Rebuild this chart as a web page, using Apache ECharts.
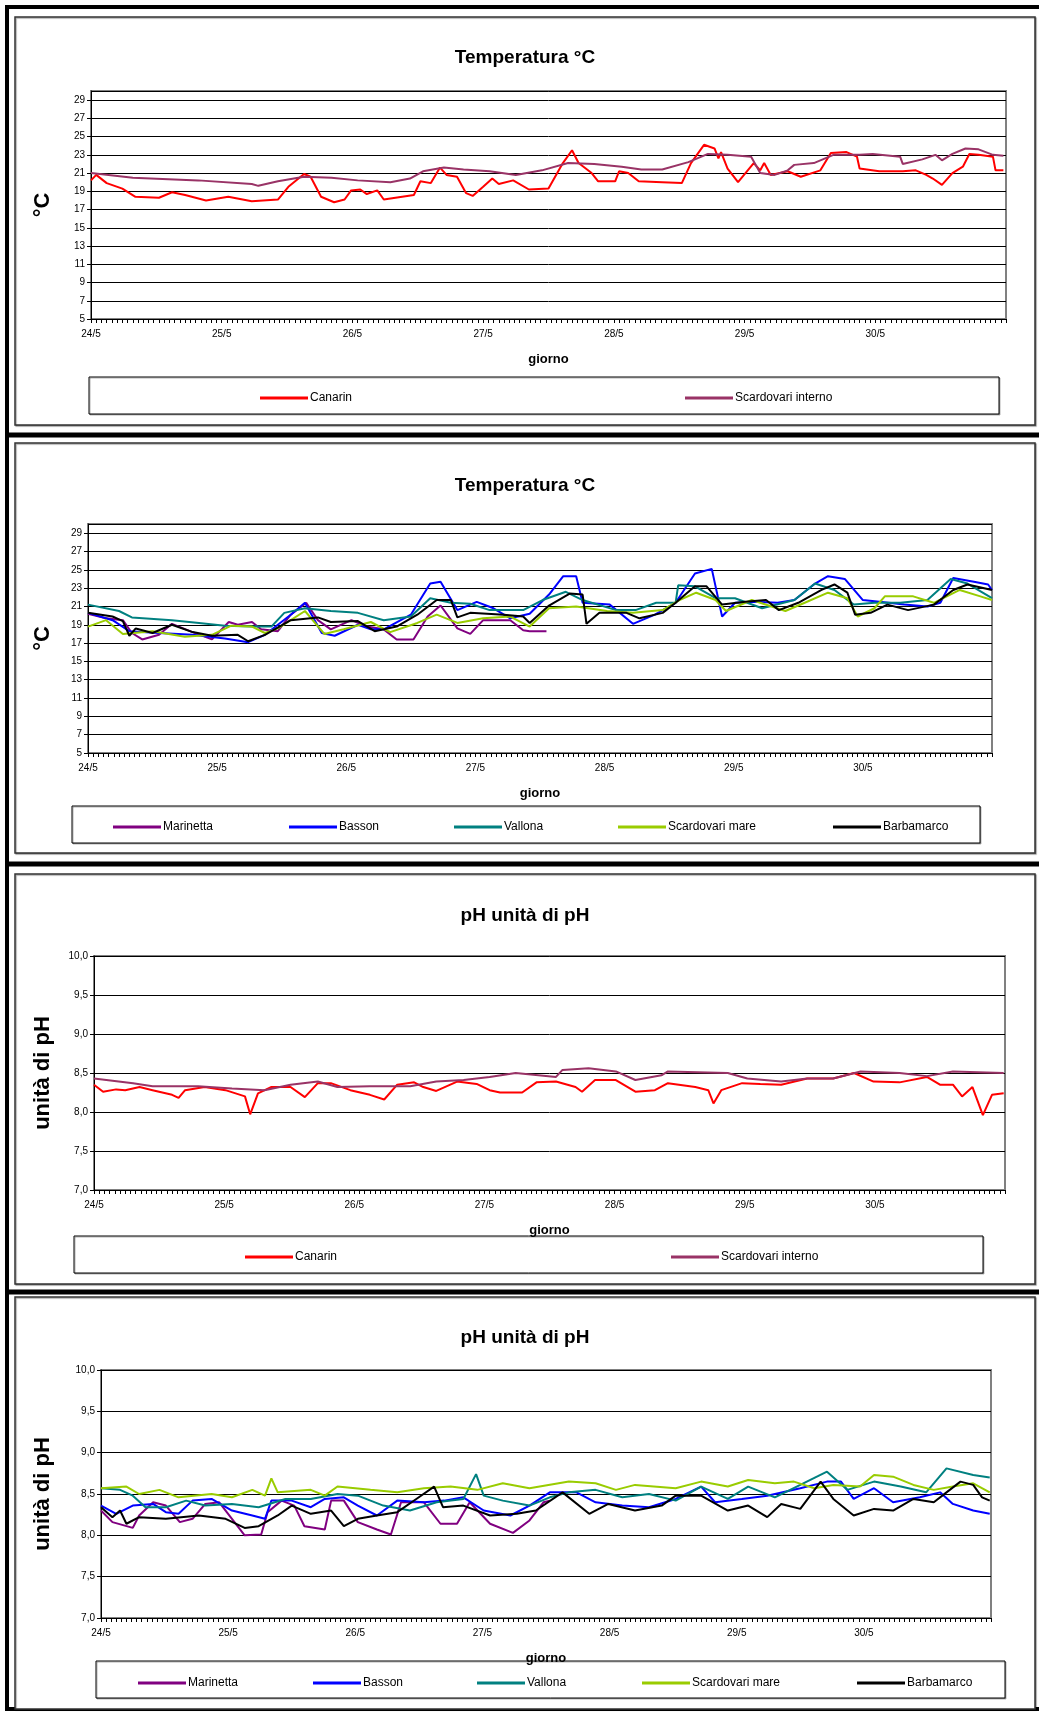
<!DOCTYPE html>
<html>
<head>
<meta charset="utf-8">
<script src="https://cdn.jsdelivr.net/npm/echarts@6/dist/echarts.min.js"></script>
<style>html,body{margin:0;padding:0;background:#fff}#main{width:1039px;height:1712px}</style>
</head>
<body>
<div id="main"></div>
<script>
// x = giorni dal 24/5, y = valore
var dayLabels = ['24/5', '25/5', '26/5', '27/5', '28/5', '29/5', '30/5'];

// --- Temperatura, pannello 1 ---
var tCanarin = [[0,20.2],[0.04,20.8],[0.12,19.9],[0.24,19.3],[0.34,18.4],[0.52,18.3],[0.62,18.9],[0.72,18.6],[0.88,18.0],[1.05,18.4],[1.23,17.9],[1.43,18.1],[1.51,19.5],[1.63,20.9],[1.68,20.6],[1.76,18.4],[1.86,17.8],[1.94,18.1],[1.99,19.1],[2.06,19.2],[2.11,18.7],[2.19,19.1],[2.24,18.1],[2.47,18.6],[2.52,20.1],[2.6,19.9],[2.67,21.6],[2.72,20.8],[2.8,20.6],[2.87,18.8],[2.92,18.5],[3.0,19.5],[3.07,20.4],[3.12,19.8],[3.23,20.2],[3.35,19.2],[3.5,19.3],[3.61,22.1],[3.68,23.5],[3.73,22.1],[3.83,21.0],[3.88,20.1],[4.01,20.1],[4.04,21.2],[4.11,21.0],[4.19,20.1],[4.37,20.0],[4.52,19.9],[4.59,22.1],[4.69,24.1],[4.77,23.7],[4.8,22.6],[4.82,23.3],[4.87,21.5],[4.95,20.0],[5.07,22.1],[5.12,21.3],[5.15,22.1],[5.2,20.8],[5.33,21.2],[5.43,20.6],[5.58,21.3],[5.66,23.2],[5.78,23.3],[5.86,22.8],[5.88,21.5],[6.03,21.2],[6.21,21.2],[6.31,21.3],[6.39,20.8],[6.44,20.4],[6.51,19.7],[6.59,21.0],[6.67,21.7],[6.72,23.1],[6.79,23.0],[6.9,22.8],[6.92,21.3],[6.98,21.3]];
var tScardInt = [[0,21.0],[0.32,20.5],[0.82,20.2],[1.23,19.8],[1.28,19.6],[1.43,20.1],[1.63,20.6],[1.84,20.5],[2.04,20.2],[2.29,20.0],[2.44,20.4],[2.54,21.2],[2.7,21.6],[2.85,21.4],[3.05,21.2],[3.25,20.8],[3.45,21.3],[3.65,22.1],[3.85,22.0],[4.06,21.7],[4.21,21.4],[4.37,21.4],[4.57,22.2],[4.72,23.1],[4.87,23.0],[5.05,22.8],[5.12,21.0],[5.23,20.8],[5.33,21.3],[5.38,21.9],[5.53,22.1],[5.68,23.0],[5.88,23.0],[5.98,23.1],[6.19,22.8],[6.21,22.0],[6.36,22.5],[6.46,23.0],[6.51,22.4],[6.59,23.1],[6.69,23.7],[6.79,23.6],[6.9,23.0],[6.98,22.9]];

// --- Temperatura, pannello 2 ---
var tMarinetta = [[0,20.2],[0.14,19.7],[0.27,19.5],[0.34,18.1],[0.42,17.4],[0.55,17.9],[0.65,19.1],[0.81,18.2],[0.96,17.4],[1.09,19.3],[1.16,19.0],[1.27,19.3],[1.34,18.5],[1.47,18.3],[1.57,20.1],[1.69,21.4],[1.78,19.5],[1.88,18.5],[2.04,19.5],[2.16,18.8],[2.29,18.5],[2.39,17.4],[2.52,17.4],[2.63,19.9],[2.73,21.1],[2.86,18.6],[2.96,18.0],[3.06,19.5],[3.27,19.5],[3.37,18.4],[3.42,18.3],[3.55,18.3]];
var tBasson = [[0,20.3],[0.19,19.5],[0.32,18.3],[0.55,18.1],[0.81,17.9],[1.06,17.5],[1.24,17.1],[1.37,17.9],[1.57,20.1],[1.68,21.4],[1.81,18.1],[1.91,17.8],[2.09,19.0],[2.19,18.5],[2.29,18.5],[2.5,20.1],[2.65,23.5],[2.73,23.7],[2.86,20.6],[3.01,21.5],[3.14,20.8],[3.27,19.7],[3.42,20.2],[3.57,22.3],[3.68,24.3],[3.78,24.3],[3.83,21.4],[4.04,21.2],[4.22,19.1],[4.39,20.1],[4.55,21.4],[4.7,24.6],[4.83,25.1],[4.91,19.9],[5.01,21.4],[5.16,21.5],[5.34,21.4],[5.47,21.7],[5.63,23.5],[5.73,24.3],[5.86,24.0],[6.0,21.7],[6.2,21.4],[6.32,21.2],[6.5,21.0],[6.6,21.4],[6.7,24.1],[6.86,23.7],[6.97,23.4],[7.0,22.8]];
var tVallona = [[0,21.2],[0.24,20.5],[0.34,19.8],[0.65,19.5],[0.86,19.2],[1.06,18.9],[1.27,18.8],[1.42,18.8],[1.52,20.3],[1.68,20.8],[1.88,20.5],[2.09,20.3],[2.29,19.5],[2.5,19.9],[2.65,21.9],[2.81,21.4],[2.96,21.3],[3.11,20.6],[3.37,20.6],[3.52,21.7],[3.7,22.6],[3.83,21.7],[4.09,20.6],[4.24,20.6],[4.4,21.4],[4.55,21.4],[4.57,23.3],[4.7,23.2],[4.86,21.9],[5.01,21.9],[5.22,20.8],[5.47,21.7],[5.63,23.5],[5.78,22.8],[5.93,21.2],[6.09,21.4],[6.29,21.4],[6.5,21.7],[6.68,24.0],[6.81,23.5],[7.0,21.9]];
var tScardMare = [[0,18.8],[0.14,19.5],[0.27,18.0],[0.5,18.3],[0.75,17.7],[0.96,17.9],[1.11,18.9],[1.27,18.8],[1.37,18.1],[1.47,18.6],[1.68,20.5],[1.83,18.0],[1.98,18.5],[2.19,19.3],[2.34,18.2],[2.55,19.2],[2.7,20.1],[2.86,19.2],[3.06,19.7],[3.27,19.9],[3.42,18.8],[3.57,20.8],[3.78,21.0],[4.02,20.5],[4.22,20.3],[4.45,20.6],[4.58,21.7],[4.71,22.5],[4.86,21.7],[4.94,20.5],[5.14,21.7],[5.4,20.5],[5.55,21.4],[5.73,22.5],[5.88,21.9],[5.96,19.9],[6.09,20.8],[6.17,22.1],[6.39,22.1],[6.55,21.4],[6.75,22.8],[6.91,22.1],[7.0,21.7]];
var tBarbamarco = [[0,20.3],[0.19,19.9],[0.27,19.4],[0.32,17.8],[0.37,18.6],[0.5,18.1],[0.65,19.0],[0.81,18.2],[0.96,17.8],[1.16,17.9],[1.24,17.2],[1.37,17.9],[1.57,19.5],[1.78,19.8],[1.88,19.3],[2.09,19.4],[2.22,18.3],[2.39,18.8],[2.55,20.1],[2.7,21.7],[2.81,21.7],[2.86,19.8],[2.96,20.3],[3.22,20.1],[3.37,19.9],[3.42,19.2],[3.57,21.1],[3.73,22.4],[3.83,22.3],[3.86,19.1],[3.96,20.3],[4.17,20.3],[4.27,19.7],[4.45,20.3],[4.55,21.4],[4.7,23.2],[4.79,23.2],[4.91,21.2],[5.09,21.5],[5.25,21.7],[5.35,20.6],[5.5,21.4],[5.68,22.8],[5.78,23.4],[5.88,22.5],[5.94,20.1],[6.06,20.3],[6.19,21.2],[6.35,20.6],[6.55,21.2],[6.7,22.8],[6.81,23.4],[7.0,22.8]];

// --- pH, pannello 3 ---
var phCanarin = [[0,8.35],[0.07,8.26],[0.17,8.29],[0.24,8.28],[0.35,8.32],[0.45,8.28],[0.6,8.22],[0.65,8.18],[0.7,8.28],[0.85,8.32],[1.01,8.28],[1.16,8.2],[1.2,7.97],[1.26,8.24],[1.36,8.32],[1.51,8.32],[1.62,8.19],[1.72,8.37],[1.82,8.37],[1.97,8.28],[2.12,8.22],[2.23,8.16],[2.33,8.35],[2.46,8.38],[2.53,8.32],[2.63,8.27],[2.79,8.39],[2.94,8.36],[3.04,8.28],[3.12,8.25],[3.29,8.25],[3.4,8.38],[3.55,8.39],[3.7,8.32],[3.75,8.26],[3.85,8.41],[4.01,8.41],[4.16,8.26],[4.31,8.28],[4.41,8.37],[4.62,8.32],[4.72,8.28],[4.76,8.11],[4.82,8.28],[4.98,8.37],[5.12,8.36],[5.28,8.35],[5.48,8.43],[5.68,8.43],[5.84,8.5],[5.99,8.39],[6.19,8.38],[6.4,8.45],[6.5,8.35],[6.6,8.35],[6.67,8.2],[6.75,8.32],[6.83,7.96],[6.9,8.22],[6.99,8.24]];
var phScardInt = [[0,8.43],[0.3,8.37],[0.45,8.33],[0.8,8.33],[1.06,8.3],[1.31,8.28],[1.51,8.35],[1.72,8.39],[1.87,8.32],[2.12,8.33],[2.43,8.33],[2.63,8.39],[2.84,8.41],[3.04,8.45],[3.24,8.5],[3.55,8.45],[3.6,8.54],[3.8,8.56],[4.01,8.52],[4.16,8.41],[4.36,8.47],[4.41,8.52],[4.87,8.5],[5.02,8.43],[5.28,8.39],[5.48,8.43],[5.68,8.43],[5.89,8.52],[6.19,8.5],[6.4,8.46],[6.6,8.52],[6.99,8.5]];

// --- pH, pannello 4 ---
var phMarinetta = [[0,8.3],[0.09,8.16],[0.25,8.09],[0.3,8.24],[0.41,8.4],[0.51,8.36],[0.62,8.16],[0.72,8.2],[0.82,8.38],[0.93,8.4],[1.03,8.2],[1.13,8.0],[1.26,8.01],[1.31,8.28],[1.42,8.42],[1.52,8.36],[1.6,8.11],[1.76,8.07],[1.81,8.42],[1.91,8.42],[2.02,8.16],[2.17,8.07],[2.28,8.01],[2.36,8.4],[2.54,8.4],[2.67,8.14],[2.8,8.14],[2.9,8.4],[3.06,8.14],[3.24,8.03],[3.37,8.18],[3.48,8.4],[3.53,8.42]];
var phBasson = [[0,8.36],[0.12,8.26],[0.25,8.36],[0.41,8.38],[0.51,8.28],[0.61,8.26],[0.72,8.42],[0.87,8.44],[1.03,8.3],[1.19,8.24],[1.29,8.2],[1.34,8.42],[1.5,8.42],[1.65,8.34],[1.76,8.44],[1.91,8.46],[2.02,8.36],[2.17,8.24],[2.33,8.42],[2.54,8.4],[2.7,8.42],[2.85,8.46],[3.01,8.3],[3.22,8.24],[3.37,8.36],[3.53,8.52],[3.74,8.52],[3.89,8.4],[4.1,8.36],[4.31,8.34],[4.52,8.44],[4.72,8.59],[4.83,8.4],[5.04,8.44],[5.24,8.48],[5.5,8.57],[5.71,8.65],[5.82,8.65],[5.92,8.44],[6.08,8.57],[6.23,8.4],[6.44,8.46],[6.6,8.52],[6.7,8.38],[6.86,8.3],[6.99,8.26]];
var phVallona = [[0,8.57],[0.15,8.55],[0.25,8.48],[0.35,8.34],[0.51,8.34],[0.67,8.42],[0.82,8.36],[1.03,8.38],[1.24,8.34],[1.45,8.44],[1.65,8.44],[1.86,8.5],[2.02,8.48],[2.22,8.36],[2.43,8.3],[2.64,8.4],[2.85,8.44],[2.95,8.74],[3.01,8.48],[3.16,8.42],[3.37,8.36],[3.53,8.46],[3.68,8.52],[3.89,8.55],[4.1,8.46],[4.31,8.5],[4.52,8.42],[4.72,8.59],[4.93,8.44],[5.09,8.59],[5.3,8.46],[5.5,8.61],[5.71,8.77],[5.87,8.55],[6.08,8.65],[6.29,8.59],[6.49,8.52],[6.65,8.81],[6.86,8.73],[6.99,8.7]];
var phScardMare = [[0,8.57],[0.2,8.59],[0.3,8.5],[0.46,8.55],[0.61,8.46],[0.87,8.5],[1.03,8.46],[1.19,8.55],[1.29,8.48],[1.34,8.69],[1.39,8.52],[1.65,8.55],[1.76,8.48],[1.86,8.59],[2.12,8.55],[2.33,8.52],[2.54,8.57],[2.75,8.59],[2.96,8.55],[3.16,8.63],[3.37,8.57],[3.68,8.65],[3.89,8.63],[4.05,8.55],[4.2,8.61],[4.52,8.57],[4.72,8.65],[4.93,8.59],[5.09,8.67],[5.3,8.63],[5.45,8.65],[5.61,8.57],[5.76,8.61],[5.97,8.59],[6.08,8.73],[6.23,8.71],[6.39,8.61],[6.55,8.55],[6.7,8.59],[6.86,8.63],[6.99,8.52]];
var phBarbamarco = [[0,8.34],[0.09,8.22],[0.15,8.3],[0.2,8.14],[0.3,8.22],[0.51,8.2],[0.77,8.24],[0.98,8.2],[1.13,8.09],[1.24,8.11],[1.39,8.24],[1.5,8.36],[1.65,8.26],[1.81,8.3],[1.91,8.11],[2.02,8.2],[2.17,8.24],[2.33,8.28],[2.48,8.44],[2.62,8.59],[2.69,8.34],[2.85,8.36],[3.06,8.24],[3.27,8.26],[3.42,8.3],[3.63,8.52],[3.84,8.26],[3.99,8.38],[4.2,8.3],[4.41,8.36],[4.52,8.48],[4.72,8.48],[4.93,8.3],[5.09,8.36],[5.24,8.22],[5.35,8.38],[5.5,8.32],[5.66,8.65],[5.76,8.44],[5.92,8.24],[6.08,8.32],[6.23,8.3],[6.39,8.44],[6.55,8.4],[6.65,8.52],[6.76,8.65],[6.86,8.61],[6.93,8.46],[6.99,8.42]];

var colors = {
  'Canarin': '#ff0000', 'Scardovari interno': '#993366', 'Marinetta': '#800080',
  'Basson': '#0000ff', 'Vallona': '#008080', 'Scardovari mare': '#99cc00', 'Barbamarco': '#000000'
};

var font = 'Liberation Sans, Arial, sans-serif';
var panels = [
  { title: 'Temperatura °C', yName: '°C', grid: [91, 91, 915, 228], y: [5, 30, 2], dec: 0, titleY: 43,
    series: [['Canarin', tCanarin], ['Scardovari interno', tScardInt]],
    legendY: 395, legendX: [255, 680], box: [89, 377, 910, 37], frame: [17, 408] },
  { title: 'Temperatura °C', yName: '°C', grid: [88, 524, 904, 229], y: [5, 30, 2], dec: 0, titleY: 471,
    series: [['Marinetta', tMarinetta], ['Basson', tBasson], ['Vallona', tVallona], ['Scardovari mare', tScardMare], ['Barbamarco', tBarbamarco]],
    legendY: 824, legendX: [108, 284, 449, 613, 828], box: [72, 806, 908, 37], frame: [443, 410] },
  { title: 'pH unità di pH', yName: 'unità di pH', grid: [94, 956, 911, 234], y: [7, 10, 0.5], dec: 1, titleY: 901,
    series: [['Canarin', phCanarin], ['Scardovari interno', phScardInt]],
    legendY: 1254, legendX: [240, 666], box: [74, 1236, 909, 37], frame: [874, 410] },
  { title: 'pH unità di pH', yName: 'unità di pH', grid: [101, 1370, 890, 248], y: [7, 10, 0.5], dec: 1, titleY: 1323,
    series: [['Marinetta', phMarinetta], ['Basson', phBasson], ['Vallona', phVallona], ['Scardovari mare', phScardMare], ['Barbamarco', phBarbamarco]],
    legendY: 1680, legendX: [133, 308, 472, 637, 852], box: [96, 1661, 909, 37], frame: [1297, 412] }
];

var option = { animation: false, backgroundColor: '#fff', title: [], grid: [], xAxis: [], yAxis: [], series: [], legend: [], graphic: [] };

option.graphic.push({ type: 'rect', z: -10, shape: { x: 7, y: 7, width: 1040, height: 1702 }, style: { fill: 'none', stroke: '#000', lineWidth: 4 } });
[435, 864, 1292].forEach(function (y) {
  option.graphic.push({ type: 'line', shape: { x1: 7, y1: y, x2: 1039, y2: y }, style: { stroke: '#000', lineWidth: 5 } });
});

panels.forEach(function (p, i) {
  option.graphic.push({ type: 'rect', z: -5, shape: { x: 15, y: p.frame[0], width: 1020, height: p.frame[1] },
    style: { fill: '#fff', stroke: '#333', lineWidth: 1.5, shadowColor: 'rgba(0,0,0,0.35)', shadowOffsetX: 1, shadowOffsetY: 1, shadowBlur: 1 } });
  option.graphic.push({ type: 'rect', z: -4, shape: { x: p.box[0], y: p.box[1], width: p.box[2], height: p.box[3] },
    style: { fill: '#fff', stroke: '#000', lineWidth: 1, shadowColor: 'rgba(0,0,0,0.3)', shadowOffsetX: 1, shadowOffsetY: 1 } });

  option.title.push({ text: p.title, left: 520, top: p.titleY, textAlign: 'center',
    textStyle: { fontFamily: font, fontSize: 19, fontWeight: 'bold', color: '#000' } });
  option.grid.push({ left: p.grid[0], top: p.grid[1], width: p.grid[2], height: p.grid[3],
    show: true, backgroundColor: '#fff', borderColor: '#808080', borderWidth: 2 });
  option.xAxis.push({
    type: 'value', gridIndex: i, min: 0, max: 7, interval: 1,
    name: 'giorno', nameLocation: 'middle', nameGap: 34,
    nameTextStyle: { fontFamily: font, fontSize: 13, fontWeight: 'bold', color: '#000' },
    axisLine: { show: true, onZero: false, lineStyle: { color: '#000', width: 1 } },
    axisTick: { show: true, length: 4, lineStyle: { color: '#000' } },
    minorTick: { show: true, splitNumber: 25, length: 4, lineStyle: { color: '#000' } },
    splitLine: { show: false },
    axisLabel: { fontFamily: font, fontSize: 10, color: '#000', margin: 10, showMaxLabel: false,
      formatter: function (v) { return dayLabels[Math.round(v)] || ''; } }
  });
  option.yAxis.push({
    type: 'value', gridIndex: i, min: p.y[0], max: p.y[1], interval: p.y[2],
    name: p.yName, nameLocation: 'middle', nameGap: p.grid[0] - 54,
    nameTextStyle: { fontFamily: font, fontSize: 22, fontWeight: 'bold', color: '#000' },
    axisLine: { show: true, lineStyle: { color: '#000', width: 1 } },
    axisTick: { show: true, length: 4, lineStyle: { color: '#000' } },
    splitLine: { show: true, lineStyle: { color: '#000', width: 1 } },
    axisLabel: { fontFamily: font, fontSize: 10, color: '#000', margin: 6, showMaxLabel: p.dec === 1,
      formatter: function (v) { return v.toFixed(p.dec).replace('.', ','); } }
  });
  p.series.forEach(function (s, k) {
    option.series.push({ type: 'line', name: s[0], xAxisIndex: i, yAxisIndex: i, data: s[1],
      showSymbol: false, symbol: 'none', color: colors[s[0]], lineStyle: { width: 2, color: colors[s[0]] } });
    option.legend.push({ data: [s[0]], left: p.legendX[k], top: p.legendY - 8, selectedMode: false,
      icon: 'rect', itemWidth: 48, itemHeight: 3, itemGap: 2,
      textStyle: { fontFamily: font, fontSize: 12, color: '#000', padding: [0, 0, 0, -3] } });
  });
});

var myChart = echarts.init(document.getElementById('main'));
myChart.setOption(option);
</script>
</body>
</html>
